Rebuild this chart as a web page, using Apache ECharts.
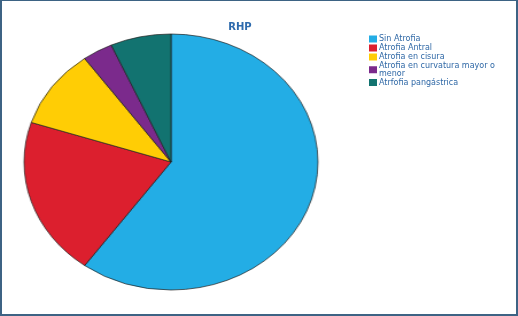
<!DOCTYPE html>
<html><head><meta charset="utf-8">
<script src="https://cdn.jsdelivr.net/npm/echarts@6/dist/echarts.min.js"></script>
<style>
html,body{margin:0;padding:0;background:#fff;}
#frame{position:absolute;left:0;top:0;width:518px;height:316px;box-sizing:border-box;border:2px solid #3d6384;border-top-width:1px;background:#fff;}
#main{position:absolute;left:0;top:0;width:518px;height:316px;}
#pie{position:absolute;left:41px;top:32px;width:260px;height:260px;transform:scaleX(1.148);transform-origin:130px 130px;}
</style></head>
<body>
<div id="frame"></div>
<div id="main"></div>
<div id="pie"></div>
<script>
var categories = ["Sin Atrofia","Atrofia Antral","Atrofia en cisura","Atrofia en curvatura mayor o\nmenor","Atrfofia pangástrica"];
var values = [18, 6, 3, 1, 2];
var colors = ["#23ade5","#dc1f2e","#ffcd05","#7b2a8c","#127370"];
var titleText = "RHP";

var data = categories.map(function(c,i){return {name:c, value:values[i], itemStyle:{color:colors[i]}};});

var main = echarts.init(document.getElementById('main'), null, {renderer:'canvas'});
main.setOption({
  animation:false,
  title:{text:titleText,left:235,top:17,textAlign:'center',padding:5,
    textStyle:{fontFamily:'DejaVu Sans',fontSize:10,fontWeight:'bold',color:'#2d6aad'}},
  legend:{orient:'vertical',left:364,top:30,itemWidth:8,itemHeight:7,itemGap:1,
    icon:'rect',
    textStyle:{fontFamily:'DejaVu Sans',fontSize:8,color:'#2f68a6',lineHeight:7.5,padding:[0,0,0,-3]},
    data:categories},
  series:[{type:'pie',silent:true,radius:[0,0.1],center:[-100,-100],label:{show:false},labelLine:{show:false},data:data}]
});

var pie = echarts.init(document.getElementById('pie'), null, {renderer:'canvas'});
pie.setOption({
  animation:false,
  series:[{type:'pie',radius:[0,128],center:[130,130],startAngle:90,clockwise:true,
    label:{show:false},labelLine:{show:false},
    emphasis:{disabled:true},
    itemStyle:{borderColor:'#1e1e1e',borderWidth:0.7},
    data:data}]
});
</script>
</body></html>
